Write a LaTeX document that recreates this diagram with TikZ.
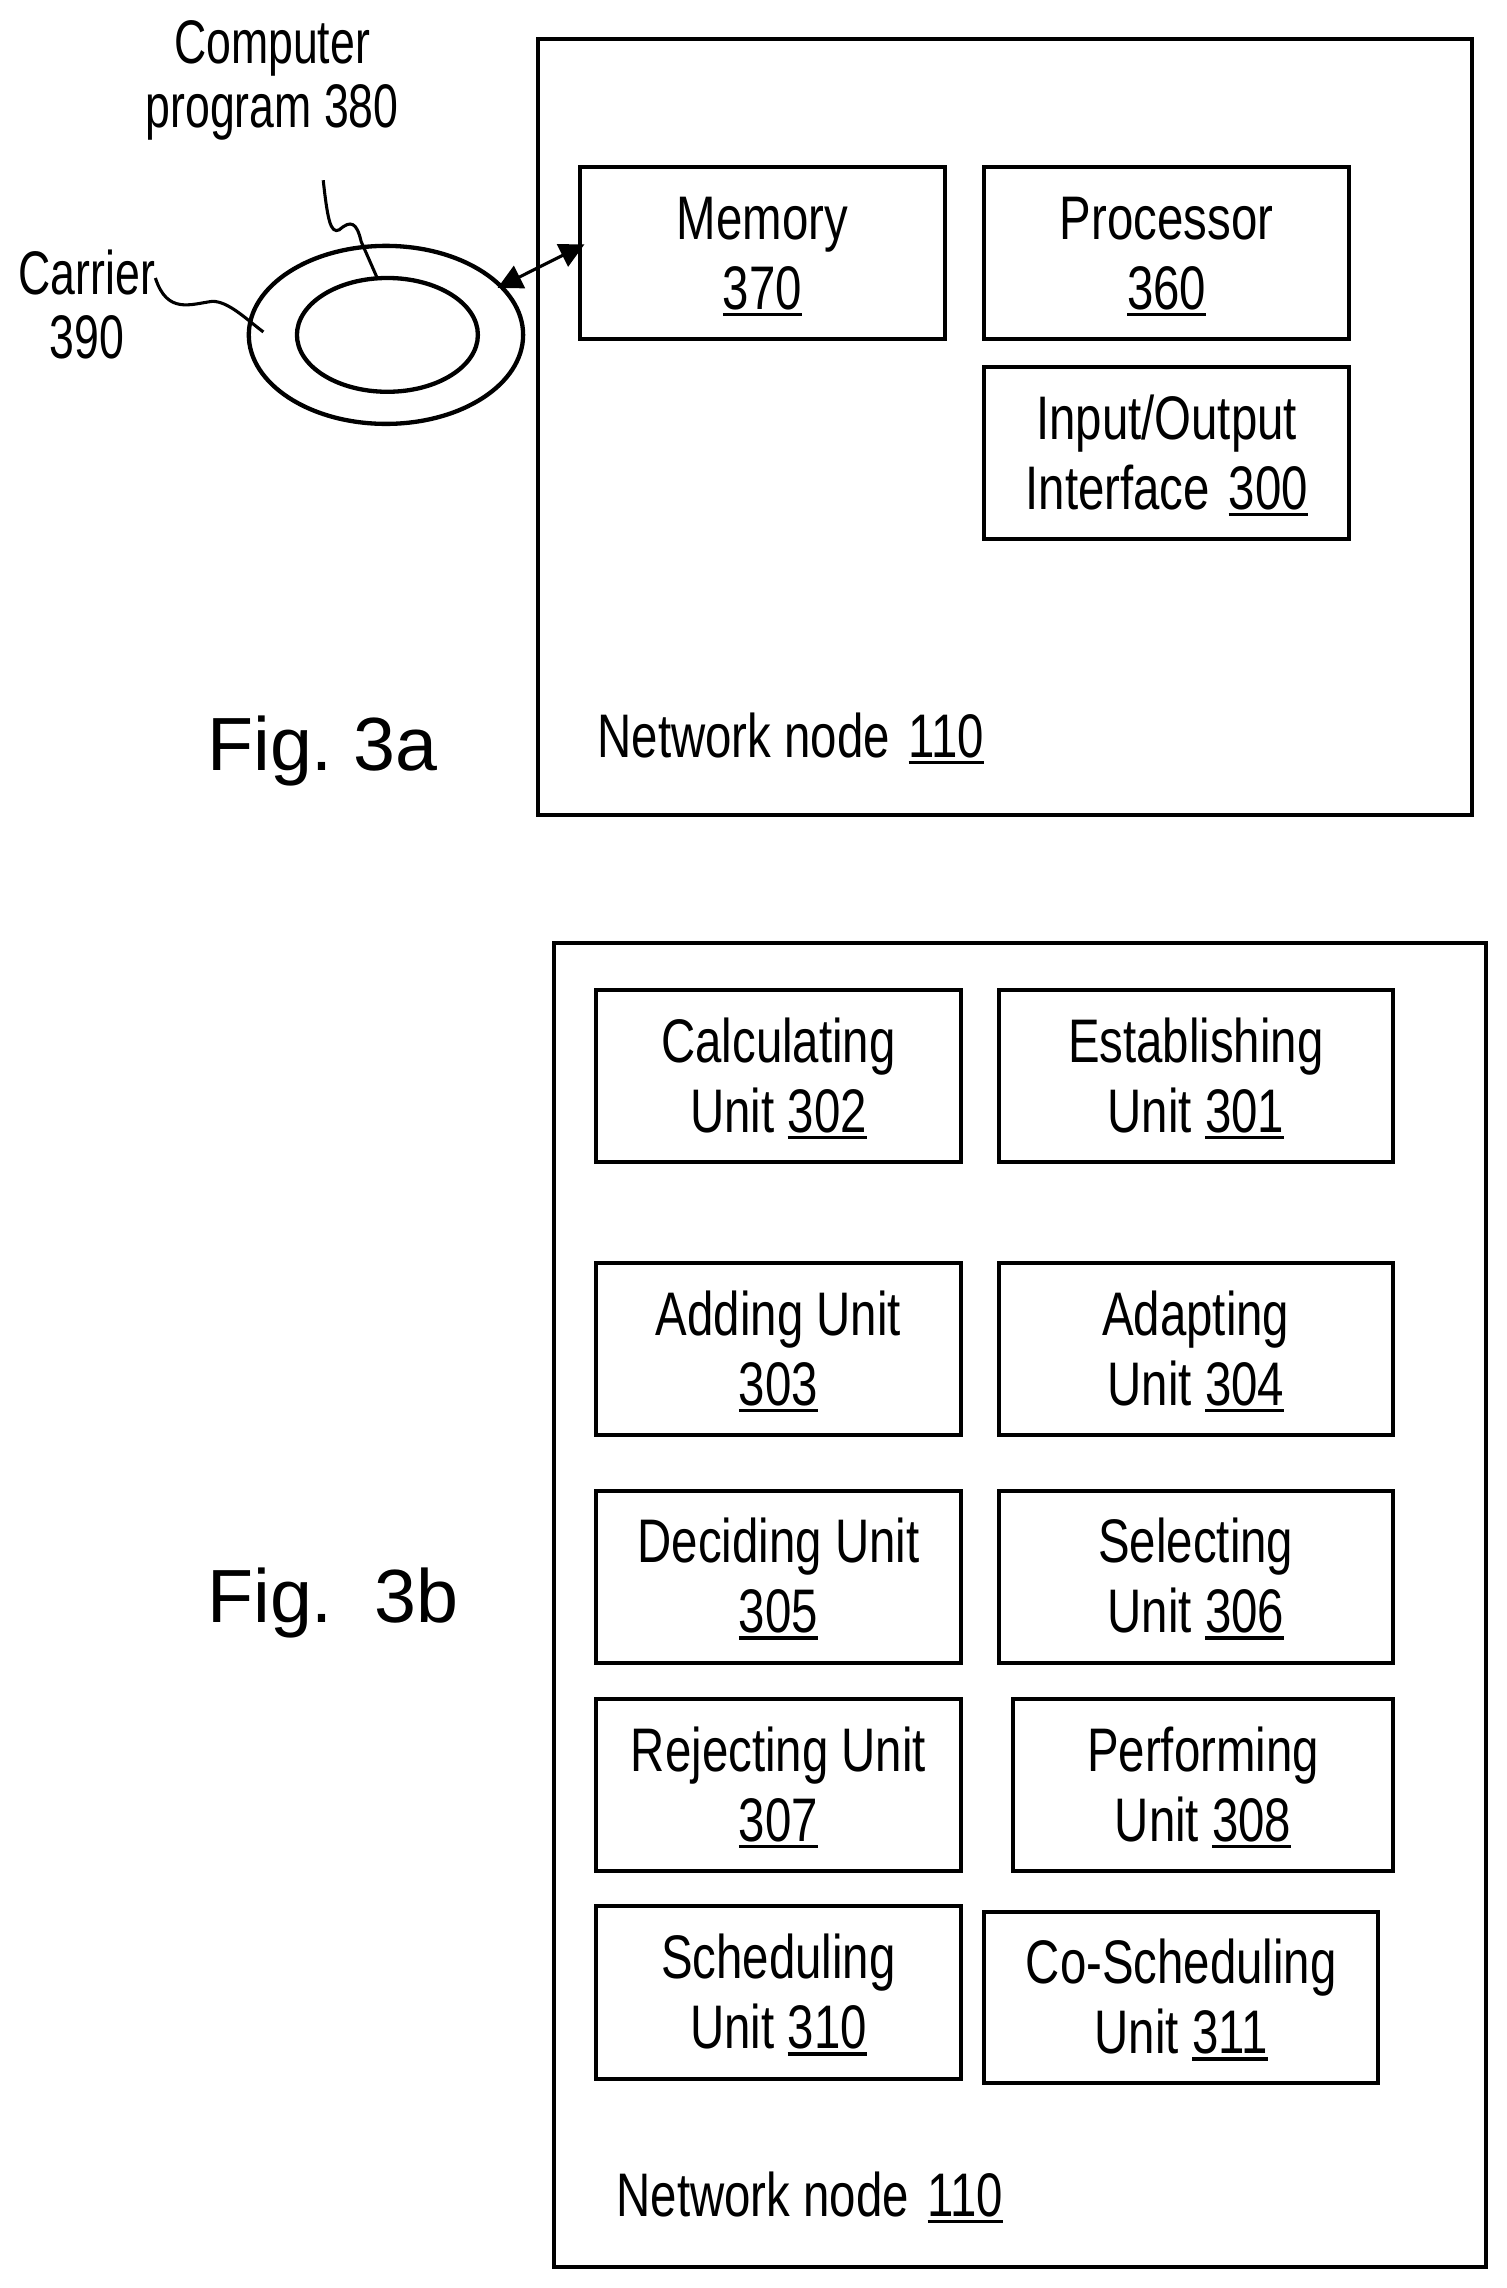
\documentclass[tikz,border=0pt]{standalone}
\usepackage{fontspec}
\setmainfont{Liberation Sans}
\newfontfamily\narrowfont[FakeStretch=0.77]{Liberation Sans}
\newfontfamily\tightfont[FakeStretch=0.725]{Liberation Sans}
\usetikzlibrary{shapes.geometric,arrows.meta}
\newcommand{\ulnum}[1]{\leavevmode\setbox0\hbox{#1}\rlap{\rule[-6.5pt]{\wd0}{3.4pt}}\box0}
\newcommand{\twolines}[2]{\rule{0pt}{62pt}\strut #1\\\strut #2}
\newcommand{\ubox}[7]{\node[unitbox, minimum width={(#4-#2)*0.05cm}, minimum height={(#5-#3)*0.05cm}] (#1) at ({(#2+#4)/2},{(#3+#5)/2}) {\twolines{#6}{#7}};}
\tikzset{
  unitbox/.style={draw=black, line width=3.9pt, inner sep=0pt, outer sep=0pt, align=center,
    font=\narrowfont\fontsize{60}{68.3}\selectfont},
  outerbox/.style={draw=black, line width=3.9pt, inner sep=0pt, outer sep=0pt},
  node caption/.style={inner sep=0pt, outer sep=0pt, anchor=west,
    font=\narrowfont\fontsize{60}{68.3}\selectfont},
  label text/.style={inner sep=0pt, outer sep=0pt, align=center,
    font=\tightfont\fontsize{60}{62.6}\selectfont},
  fig text/.style={inner sep=0pt, outer sep=0pt, anchor=west,
    font=\fontsize{73.5}{80}\selectfont},
  disc/.style={ellipse, draw=black, line width=4.2pt, inner sep=0pt, outer sep=0pt},
  leader/.style={draw=black, line width=3pt},
  double arrow/.style={draw=black, line width=3pt, {Triangle[length=24pt,width=24pt]}-{Triangle[length=24pt,width=24pt]}}
}
\begin{document}
\begin{tikzpicture}[x=0.05cm,y=-0.05cm]
\useasboundingbox (-0.5,-0.5) rectangle (1032.2,1567.5);
\fill[white] (-0.5,-0.5) rectangle (1032.2,1567.5);
% Fig. 3a
\node[outerbox, minimum width={640*0.05cm}, minimum height={532*0.05cm}] (nodeA) at (688,292) {};
\ubox{memory}{397}{114}{647}{232}{Memory}{\ulnum{370}}
\ubox{processor}{674}{114}{924}{232}{Processor}{\ulnum{360}}
\ubox{io}{674}{251}{924}{369}{Input/Output}{Interface\ \hspace{5.5pt}\ulnum{300}}
\node[node caption] (nodeAlabel) at (409,509) {\strut Network node\ \hspace{5.5pt}\ulnum{110}};
\node[fig text] (figA) at (141.5,514) {Fig.\ 3a};
\node[disc, minimum width={188*0.05cm}, minimum height={122*0.05cm}] (carrier) at (264,229) {};
\node[disc, minimum width={124*0.05cm}, minimum height={78*0.05cm}] (program) at (265,229) {};
\node[label text] (programlabel) at (186,56) {\strut Computer\\\strut program 380};
\node[label text] (carrierlabel) at (59,214.5) {\strut Carrier\\\strut 390};
\coordinate (programtail) at (221,123);
\coordinate (carriertail) at (106,190);
\coordinate (carrierend) at (180,227);
\draw[leader] (programtail) .. controls (224,150) and (226,160) .. (232,157)
   .. controls (240,150) and (244,152) .. (247,165) -- (program.north -| 258,190);
\draw[leader] (carriertail) .. controls (114,215) and (130,208) .. (145,206)
   .. controls (156,206) and (168,218) .. (carrierend);
\coordinate (memoryport) at ([shift={(3,-6)}]memory.west);
\coordinate (carrierport) at ([shift={(10,11)}]carrier.north east);
\draw[double arrow] (carrierport) -- (memoryport);
% Fig. 3b
\node[outerbox, minimum width={639*0.05cm}, minimum height={907*0.05cm}] (nodeB) at (698.5,1099.5) {};
\ubox{calc}{408}{678}{658}{796}{Calculating}{Unit \ulnum{302}}
\ubox{estab}{684}{678}{954}{796}{Establishing}{Unit \ulnum{301}}
\ubox{adding}{408}{865}{658}{983}{Adding Unit}{\ulnum{303}}
\ubox{adapting}{684}{865}{954}{983}{Adapting}{Unit \ulnum{304}}
\ubox{deciding}{408}{1021}{658}{1139}{Deciding Unit}{\ulnum{305}}
\ubox{selecting}{684}{1021}{954}{1139}{Selecting}{Unit \ulnum{306}}
\ubox{rejecting}{408}{1164}{658}{1282}{Rejecting Unit}{\ulnum{307}}
\ubox{performing}{694}{1164}{954}{1282}{Performing}{Unit \ulnum{308}}
\ubox{scheduling}{408}{1306}{658}{1424}{Scheduling}{Unit \ulnum{310}}
\ubox{cosched}{674}{1310}{944}{1427}{Co-Scheduling}{Unit \ulnum{311}}
\node[node caption] (nodeBlabel) at (422,1509) {\strut Network node\ \hspace{5.5pt}\ulnum{110}};
\node[fig text] (figB) at (141.5,1098) {Fig.\ \ 3b};
\end{tikzpicture}
\end{document}
